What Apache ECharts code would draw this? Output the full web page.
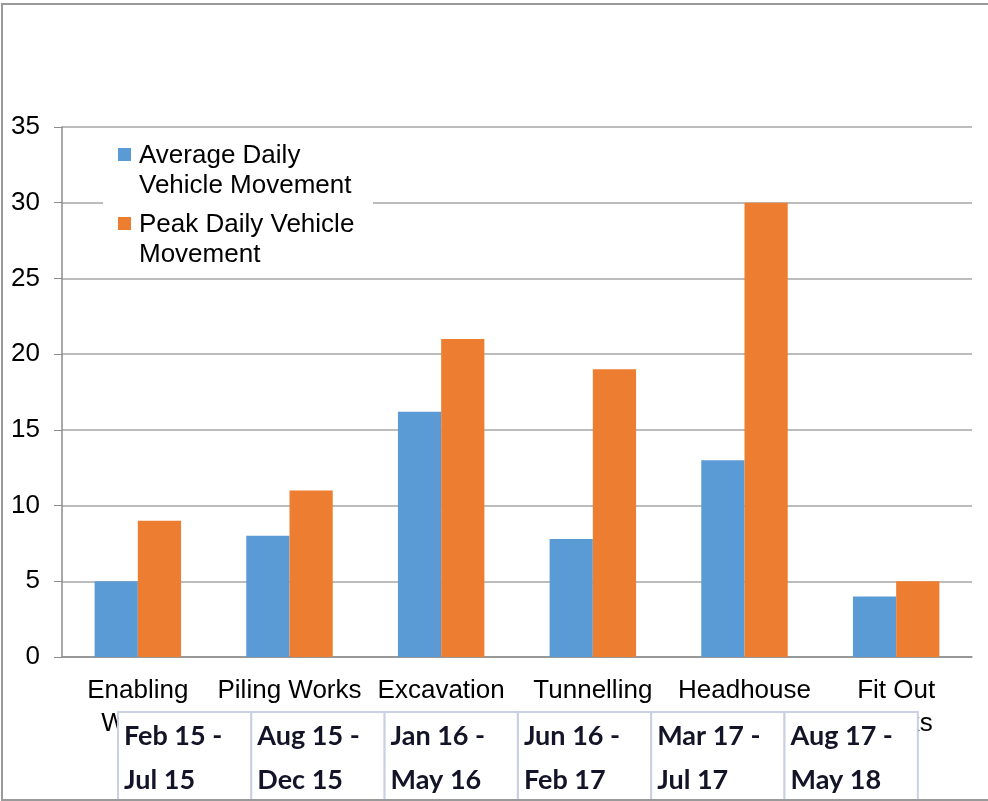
<!DOCTYPE html>
<html>
<head>
<meta charset="utf-8">
<script src="https://cdn.jsdelivr.net/npm/echarts@6/dist/echarts.min.js"></script>
<style>
  html, body { margin: 0; padding: 0; background: #fff; }
  #chart { width: 988px; height: 801px; }
</style>
</head>
<body>
<div id="chart"></div>
<script>
// chart data
const categories = ['Enabling\nWorks', 'Piling Works', 'Excavation', 'Tunnelling\nWorks', 'Headhouse\n& Crossover', 'Fit Out\nWorks'];
const seriesNames = ['Average Daily\nVehicle Movement', 'Peak Daily Vehicle\nMovement'];
const averageDaily = [5, 8, 16.2, 7.8, 13, 4];
const peakDaily = [9, 11, 21, 19, 30, 5];
const dateRanges = ['Feb 15 -\nJul 15', 'Aug 15 -\nDec 15', 'Jan 16 -\nMay 16', 'Jun 16 -\nFeb 17', 'Mar 17 -\nJul 17', 'Aug 17 -\nMay 18'];
const colors = ['#5b9bd5', '#ed7d31'];

const FONT = 'Liberation Sans';

const chart = echarts.init(document.getElementById('chart'));

// hand-drawn legend so the square sits on the first text line
let legendBits = [
  { type: 'rect', z: 100, shape: { x: 103, y: 136, width: 270, height: 136 }, style: { fill: '#fff' } },
];
seriesNames.forEach((name, i) => {
  let top = 148 + i * 69;
  legendBits.push({ type: 'rect', z: 101, shape: { x: 118, y: top, width: 13, height: 13 }, style: { fill: colors[i] } });
  legendBits.push({
    type: 'text', z: 101,
    style: { x: 139, y: top - 7, text: name, fontSize: 26, fontFamily: FONT, lineHeight: 30, fill: '#000', verticalAlign: 'top' },
  });
});

// the date table pasted over the axis labels
let tableBits = [];
const cellW = 133.3;
dateRanges.forEach((txt, i) => {
  let x = 118 + i * cellW;
  tableBits.push({
    type: 'rect', z: 110,
    shape: { x: x, y: 712, width: cellW, height: 90 },
    style: { fill: '#fff', stroke: '#c9d0e2', lineWidth: 2 },
  });
  tableBits.push({
    type: 'text', z: 111,
    style: { x: x + 6, y: 714, text: txt, fontSize: 27, fontWeight: 'bold', fontFamily: 'Lato', lineHeight: 44, fill: '#141428', verticalAlign: 'top' },
  });
});

chart.setOption({
  backgroundColor: '#fff',
  animation: false,
  grid: { left: 62, right: 16, top: 127, bottom: 144 },
  xAxis: {
    type: 'category',
    data: categories,
    axisLine: { lineStyle: { color: '#8c8c8c', width: 1.5 } },
    axisTick: { length: 8, lineStyle: { color: '#8c8c8c' } },
    axisLabel: {
      interval: 0,
      margin: 17,
      fontSize: 26,
      lineHeight: 33,
      fontFamily: FONT,
      color: '#000',
    },
  },
  yAxis: {
    type: 'value',
    min: 0,
    max: 35,
    interval: 5,
    axisLine: { show: true, lineStyle: { color: '#8c8c8c', width: 1.5 } },
    axisTick: { show: true, length: 8, lineStyle: { color: '#8c8c8c' } },
    splitLine: { lineStyle: { color: '#a6a6a6', width: 1.5 } },
    axisLabel: {
      margin: 22,
      fontSize: 26,
      fontFamily: FONT,
      color: '#000',
    },
  },
  series: [
    {
      name: seriesNames[0],
      type: 'bar',
      data: averageDaily,
      itemStyle: { color: colors[0] },
      barGap: '0%',
      barCategoryGap: '43%',
    },
    {
      name: seriesNames[1],
      type: 'bar',
      data: peakDaily,
      itemStyle: { color: colors[1] },
      barGap: '0%',
      barCategoryGap: '43%',
    },
  ],
  graphic: [
    { type: 'group', z: 100, children: legendBits },
    { type: 'group', z: 110, children: tableBits },
    {
      type: 'rect', z: 120, silent: true,
      shape: { x: 2, y: 4, width: 1000, height: 796 },
      style: { fill: 'none', stroke: '#9a9a9a', lineWidth: 2 },
    },
  ],
});
</script>
</body>
</html>
